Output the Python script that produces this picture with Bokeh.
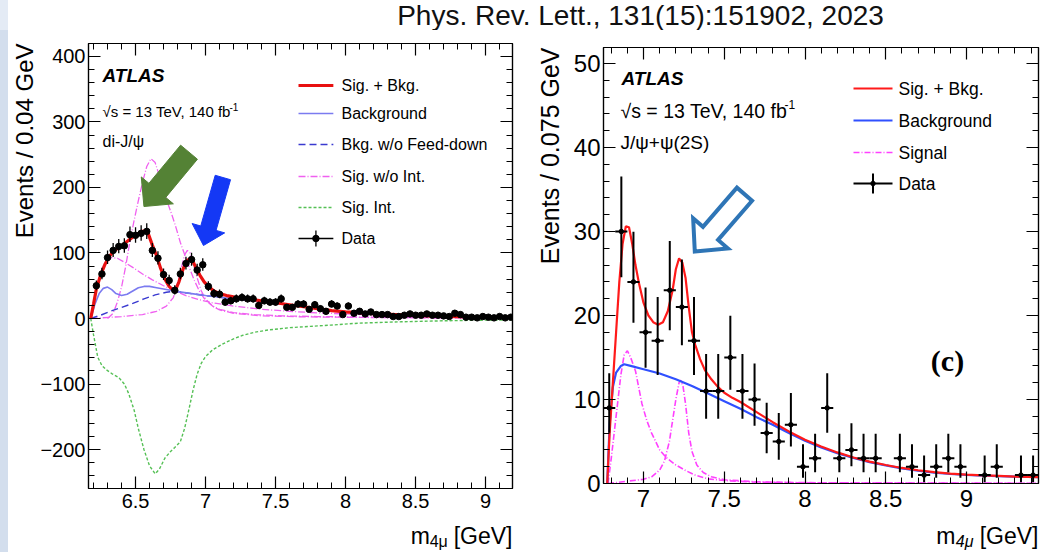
import math
from bokeh.plotting import figure
from bokeh.models import (Range1d, LinearAxis, SingleIntervalTicker,
                          CustomJSTickFormatter, Label, Spacer, Title)
from bokeh.layouts import row, column
from bokeh.embed import file_html
from bokeh.resources import INLINE
from bokeh.core.properties import value

FONT = "Liberation Sans"

# ---------------- di-J/psi channel: events per 0.04 GeV ----------------
DIJ_BIN_LO = 6.16
DIJ_BIN_W = 0.04
dij_counts = [0, 50, 68, 93, 104, 110, 111, 128, 127, 130,
              133, 104, 92, 67, 58, 43, 68, 84, 90, 74,
              82, 49, 38, 37, 25, 27, 30, 32, 30, 30,
              20, 27, 25, 25, 30, 17, 17, 22, 22, 14,
              21, 15, 11, 22, 19, 6, 19, 8, 11, 7,
              10, 6, 6, 6, 3, 3, 5, 7, 5, 5,
              7, 5, 5, 4, 3, 8, 6, 2, 2, 1,
              3, 2, 1, 3, 1, 2]

# fit model curves (m4mu in GeV, events)
dij_sb_m = [6.18, 6.20, 6.22, 6.25, 6.28, 6.31, 6.34, 6.37, 6.40, 6.43, 6.46, 6.49, 6.52,
            6.55, 6.57, 6.59, 6.62, 6.65, 6.68, 6.71, 6.74, 6.77, 6.79, 6.81, 6.84, 6.87,
            6.89, 6.91, 6.93, 6.96, 6.99, 7.02, 7.06, 7.10, 7.15, 7.20, 7.30, 7.40, 7.50,
            7.60, 7.70, 7.80, 7.90, 8.00, 8.20, 8.40, 8.60, 8.80, 9.00, 9.20]
dij_sb_y = [0, 22, 45, 66, 82, 94, 102, 107, 111, 116, 121, 126, 130,
            133, 134, 130, 112, 96, 76, 60, 49, 43, 46, 56, 76, 89,
            91, 87, 78, 66, 56, 49, 42, 38, 35, 33, 30, 27, 24,
            21, 18, 15, 12, 10, 7.5, 5.5, 4, 3, 2.5, 2]

dij_bkg_m = [6.18, 6.21, 6.24, 6.27, 6.30, 6.33, 6.36, 6.40, 6.44, 6.48, 6.52, 6.56, 6.60,
             6.65, 6.70, 6.75, 6.80, 6.90, 7.00, 7.10, 7.20, 7.30, 7.40, 7.50, 7.60, 7.70,
             7.80, 7.90, 8.00, 8.20, 8.40, 8.60, 8.80, 9.00, 9.20]
dij_bkg_y = [0, 22, 38, 46, 48, 44, 38, 35, 37, 42, 47, 49, 49,
             47, 45, 43, 41, 38, 35, 32.5, 30, 28, 26, 23.5, 21, 18,
             15, 12, 10, 7.5, 5.5, 4, 3, 2.5, 2]

dij_nofd_m = [6.18, 6.25, 6.32, 6.40, 6.48, 6.56, 6.64, 6.72, 6.78, 6.85, 6.90, 7.00, 7.10,
              7.20, 7.30, 7.40, 7.50, 7.60, 7.70, 7.80, 7.90, 8.00, 8.20, 8.40, 8.60, 8.80,
              9.00, 9.20]
dij_nofd_y = [0, 5, 11, 17, 23, 30, 36, 40, 42, 39.5, 38, 35, 32.5,
              30, 28, 26, 23.5, 21, 18, 15, 12, 10, 7.5, 5.5, 4, 3,
              2.5, 2]

dij_sig1_m = [6.30, 6.34, 6.37, 6.40, 6.43, 6.46, 6.49, 6.52, 6.55, 6.58, 6.61, 6.64, 6.67,
              6.70, 6.73, 6.76, 6.79, 6.82, 6.85, 6.88, 6.92, 6.96, 7.00, 7.05, 7.10, 7.20,
              7.35, 7.55, 7.80, 8.20, 8.70, 9.20]
dij_sig1_y = [0, 8, 25, 48, 80, 118, 150, 180, 208, 232, 244, 238, 218,
              196, 176, 158, 138, 116, 98, 80, 58, 40, 28, 19, 14, 9,
              6, 4, 3, 2, 1, 0.5]

dij_sig2_m = [6.18, 6.40, 6.55, 6.65, 6.72, 6.77, 6.80, 6.83, 6.85, 6.87, 6.89, 6.91, 6.94,
              6.97, 7.00, 7.05, 7.10, 7.20, 7.40, 7.70, 8.20, 9.20]
dij_sig2_y = [0, 3, 6, 11, 19, 32, 52, 80, 97, 104, 100, 85, 62,
              42, 30, 19, 13, 8, 4, 2.5, 1.5, 0.5]

dij_sig3_m = [6.18, 6.21, 6.24, 6.27, 6.30, 6.33, 6.37, 6.42, 6.48, 6.55, 6.62, 6.70, 6.78,
              6.86, 6.95, 7.05, 7.20, 7.40, 7.60, 7.80, 8.00, 8.40, 8.80, 9.20]
dij_sig3_y = [0, 35, 62, 80, 90, 93, 92, 86, 78, 68, 59, 50, 42,
              35, 29, 24, 19, 14, 11, 8.5, 7, 4.5, 3, 2]

dij_int_m = [6.18, 6.20, 6.23, 6.26, 6.29, 6.33, 6.38, 6.42, 6.45, 6.49, 6.52, 6.56, 6.60,
             6.64, 6.67, 6.71, 6.75, 6.78, 6.82, 6.85, 6.88, 6.91, 6.94, 6.97, 7.00, 7.05,
             7.12, 7.20, 7.26, 7.35, 7.45, 7.60, 7.75, 7.90, 8.10, 8.40, 8.70, 9.00, 9.20]
dij_int_y = [0, -25, -59, -72, -78, -84, -90, -100, -114, -140, -168, -200, -225,
             -237, -230, -213, -203, -197, -188, -168, -140, -110, -85, -68, -58, -48,
             -39, -31, -26, -21, -17.5, -14, -12, -10, -7, -5, -3.5, -2.5, -2]

# ---------------- J/psi + psi(2S) channel: events per 0.075 GeV ----------------
JP2_BIN_LO = 6.75
JP2_BIN_W = 0.075
jp2_counts = [9, 30, 24, 18, 17, 23, 21, 17, 11, 11,
              15, 11, 10, 6, 5, 7, 2, 3, 9, 3,
              4, 3, 3, 0, 3, 2, 1, 2, 3, 2,
              0, 1, 2, 0, 1, 1]

jp2_sb_m = [6.775, 6.79, 6.81, 6.83, 6.85, 6.87, 6.89, 6.91, 6.93, 6.95, 6.97, 7.00, 7.03,
            7.06, 7.09, 7.12, 7.15, 7.18, 7.20, 7.22, 7.24, 7.26, 7.28, 7.30, 7.32, 7.35,
            7.38, 7.42, 7.46, 7.50, 7.55, 7.60, 7.70, 7.80, 7.90, 8.00, 8.10, 8.20, 8.30,
            8.40, 8.50, 8.60, 8.70, 8.80, 8.90, 9.00, 9.10, 9.20, 9.30, 9.45]
jp2_sb_y = [0, 6, 12, 18, 24, 28.5, 30.6, 30.5, 28.5, 26, 24, 21.5, 20,
            19.2, 18.9, 19.2, 20.5, 23, 25.5, 26.8, 26.3, 24.5, 21, 18, 16.5, 14.8,
            13.5, 12.4, 11.5, 10.8, 10.2, 9.7, 8.5, 7.3, 6.2, 5.2, 4.4, 3.7, 3.1,
            2.6, 2.2, 1.85, 1.58, 1.36, 1.18, 1.06, 0.97, 0.9, 0.83, 0.77]

jp2_bkg_m = [6.775, 6.79, 6.81, 6.83, 6.86, 6.88, 6.92, 7.00, 7.10, 7.20, 7.30, 7.40, 7.50,
             7.60, 7.70, 7.80, 7.90, 8.00, 8.10, 8.20, 8.30, 8.40, 8.50, 8.60, 8.70, 8.80,
             8.90, 9.00, 9.10, 9.20, 9.30, 9.45]
jp2_bkg_y = [0, 7, 11.5, 13.2, 14.0, 14.2, 14.0, 13.6, 13.1, 12.4, 11.6, 10.7, 9.8,
             8.9, 7.9, 7.0, 6.0, 5.1, 4.3, 3.6, 3.05, 2.55, 2.15, 1.8, 1.52, 1.3,
             1.13, 1.02, 0.94, 0.87, 0.81, 0.75]

jp2_sig1_m = [6.78, 6.80, 6.83, 6.86, 6.88, 6.90, 6.92, 6.95, 6.99, 7.02, 7.05, 7.10, 7.14,
              7.20, 7.26, 7.32, 7.40, 7.50, 7.70, 8.00, 9.45]
jp2_sig1_y = [0, 3, 8, 13, 15.3, 15.8, 15, 13.4, 9.5, 7.5, 6.0, 4.0, 3.1,
              2.2, 1.55, 1.0, 0.55, 0.35, 0.15, 0.08, 0.02]

jp2_sig2_m = [6.78, 7.00, 7.05, 7.10, 7.13, 7.16, 7.18, 7.20, 7.22, 7.23, 7.245, 7.26, 7.28,
              7.30, 7.33, 7.37, 7.42, 7.50, 7.70, 8.00, 9.45]
jp2_sig2_y = [0, 0.5, 0.8, 1.6, 2.7, 5.0, 7.5, 10.0, 12.0, 12.3, 11.5, 9.5, 6.0,
              3.8, 2.2, 1.3, 0.8, 0.45, 0.2, 0.1, 0.03]


# ---------------- page geometry ----------------
PAGE_W, PAGE_H = 1048, 552
STRIP_W = 8
TITLE_H = 30
XLAB_TOP = 517          # the axis-title strip starts here
PANEL_H = XLAB_TOP - TITLE_H
XLAB_H = PAGE_H - XLAB_TOP


class Frame:
    """Maps page pixels to data coordinates for one plot frame."""

    def __init__(self, left, right, top, bottom, xr, yr):
        self.l, self.r, self.t, self.b = left, right, top, bottom
        self.x0, self.x1 = xr
        self.y0, self.y1 = yr

    def x(self, px):
        return self.x0 + (px - self.l) * (self.x1 - self.x0) / (self.r - self.l)

    def y(self, py):
        return self.y0 + (self.b - py) * (self.y1 - self.y0) / (self.b - self.t)


def tick_formatter():
    return CustomJSTickFormatter(code="""
        const r = Math.round(tick);
        let s = Math.abs(tick - r) < 1e-6 ? r.toFixed(0) : tick.toFixed(1);
        if (tick < 0) { s = "\u2212" + s.replace("-", ""); }
        return s;
    """)


def make_panel(fr, fig_x, fig_w, xr, yr, xint, yint, tick_size, xstand, ystand,
               ytitle, ytitle_size, ytitle_standoff):
    fig_y = TITLE_H
    p = figure(width=fig_w, height=PANEL_H, output_backend="svg", toolbar_location=None,
               title=None, x_range=Range1d(*xr), y_range=Range1d(*yr),
               x_axis_type=None, y_axis_type=None,
               min_border_left=fr.l - fig_x, min_border_right=fig_x + fig_w - fr.r,
               min_border_top=fr.t - fig_y, min_border_bottom=fig_y + PANEL_H - fr.b)
    p.outline_line_color = "black"
    p.outline_line_width = 1.2
    p.background_fill_color = "white"
    p.border_fill_color = "white"

    def axis(ticker_int, labelled, standoff):
        ax = LinearAxis(ticker=SingleIntervalTicker(interval=ticker_int, num_minor_ticks=5))
        ax.axis_line_color = "black"
        ax.axis_line_width = 1.2
        ax.major_tick_line_color = "black"
        ax.minor_tick_line_color = "black"
        ax.major_tick_line_width = 1.2
        ax.minor_tick_line_width = 1.0
        ax.major_tick_in = 12
        ax.major_tick_out = 0
        ax.minor_tick_in = 6
        ax.minor_tick_out = 0
        if labelled:
            ax.formatter = tick_formatter()
            ax.major_label_text_font = FONT
            ax.major_label_text_font_size = f"{tick_size}px"
            ax.major_label_text_color = "black"
            ax.major_label_standoff = standoff
        else:
            ax.formatter = CustomJSTickFormatter(code="return '';")
            ax.major_label_text_font_size = "1px"
            ax.major_label_standoff = 0
        return ax

    p.add_layout(axis(xint, True, xstand), "below")
    p.add_layout(axis(yint, True, ystand), "left")
    p.add_layout(axis(xint, False, 0), "above")
    p.add_layout(axis(yint, False, 0), "right")
    p.add_layout(Title(text=ytitle, align="right", text_font=FONT,
                       text_font_size=f"{ytitle_size}px", text_font_style="normal",
                       text_color="black", standoff=ytitle_standoff), "left")
    return p


def put_text(p, fr, px, py, text, size, style="normal", align="left",
             baseline="middle", angle=0.0, font=FONT, color="black"):
    p.add_layout(Label(x=px - fr.l, y=fr.b - py, x_units="screen", y_units="screen",
                       text=text, text_font=font, text_font_size=f"{size}px",
                       text_font_style=style, text_align=align, text_baseline=baseline,
                       angle=angle, text_color=color))


def draw_data(p, lo, w, counts, size, lw):
    xs, ys, ylo, yhi, xl, xr = [], [], [], [], [], []
    for i, n in enumerate(counts):
        if n <= 0:
            continue
        c = lo + w * (i + 0.5)
        xs.append(c)
        ys.append(n)
        # Poisson (Garwood-like) 68% interval
        ylo.append(n - math.sqrt(n - 0.25))
        yhi.append(n + math.sqrt(n + 0.75) + 1.0)
        xl.append(c - w / 2)
        xr.append(c + w / 2)
    p.segment(xs, ylo, xs, yhi, line_color="black", line_width=lw)
    p.segment(xl, ys, xr, ys, line_color="black", line_width=lw)
    p.scatter(xs, ys, size=size, color="black")


def block_arrow_px(tip, tail, shaft_w, head_w, head_l):
    ux, uy = tail[0] - tip[0], tail[1] - tip[1]
    L = math.hypot(ux, uy)
    ux, uy = ux / L, uy / L
    nx, ny = -uy, ux
    bx, by = tip[0] + ux * head_l, tip[1] + uy * head_l
    return [tip,
            (bx + nx * head_w / 2, by + ny * head_w / 2),
            (bx + nx * shaft_w / 2, by + ny * shaft_w / 2),
            (tail[0] + nx * shaft_w / 2, tail[1] + ny * shaft_w / 2),
            (tail[0] - nx * shaft_w / 2, tail[1] - ny * shaft_w / 2),
            (bx - nx * shaft_w / 2, by - ny * shaft_w / 2),
            (bx - nx * head_w / 2, by - ny * head_w / 2)]


def draw_arrow(p, fr, pts, fill, line, lw):
    p.patch([fr.x(a) for a, _ in pts], [fr.y(b) for _, b in pts],
            fill_color=fill, line_color=line, line_width=lw, line_join="miter")


def legend_line(p, fr, x0, x1, py, **kw):
    p.line([fr.x(x0), fr.x(x1)], [fr.y(py), fr.y(py)], **kw)


def xtitle_strip(fr, fig_x, fig_w, sub_style):
    """m_{4mu} [GeV] written below a panel, right-aligned at the frame's right edge.
    The strip shares the panel's left/right borders, so its x range is page pixels."""
    s = figure(width=fig_w, height=XLAB_H, output_backend="svg", toolbar_location=None,
               title=None, x_range=Range1d(fr.l, fr.r),
               y_range=Range1d(PAGE_H, XLAB_TOP),
               x_axis_type=None, y_axis_type=None,
               min_border_left=fr.l - fig_x, min_border_right=fig_x + fig_w - fr.r,
               min_border_top=0, min_border_bottom=0)
    s.outline_line_color = None
    s.grid.visible = False
    right_px = fr.r
    base = 535
    s.text(x=[right_px], y=[base], text=["[GeV]"], text_font=value(FONT),
           text_font_size="23px", text_align="right", text_baseline="alphabetic")
    s.text(x=[right_px - 65], y=[base + 6], text=["4\u03bc"], text_font=value(FONT),
           text_font_size="16px", text_align="right", text_baseline="alphabetic",
           text_font_style=sub_style)
    s.text(x=[right_px - 83], y=[base], text=["m"], text_font=value(FONT),
           text_font_size="23px", text_align="right", text_baseline="alphabetic")
    return s


# ======================= left panel: di-J/psi =======================
L_XR = (6.164, 9.192)
L_YR = (-259.5, 419.8)
fl = Frame(86, 512, 43, 488, L_XR, L_YR)
pl = make_panel(fl, STRIP_W, 512, L_XR, L_YR, 0.5, 100, 20, 5, 3,
                "Events / 0.04 GeV", 24, 0)

MAG = "#f060f0"
pl.line(dij_int_m, dij_int_y, line_color="#55c055", line_width=1.4, line_dash="3 2")
pl.line(dij_sig3_m, dij_sig3_y, line_color=MAG, line_width=1.3, line_dash="7 2 1 2")
pl.line(dij_sig2_m, dij_sig2_y, line_color=MAG, line_width=1.3, line_dash="7 2 1 2")
pl.line(dij_sig1_m, dij_sig1_y, line_color=MAG, line_width=1.3, line_dash="7 2 1 2")
pl.line(dij_nofd_m, dij_nofd_y, line_color="#3a3ad0", line_width=1.4, line_dash="7 4")
pl.line(dij_bkg_m, dij_bkg_y, line_color="#7b7bf0", line_width=1.6)
pl.line(dij_sb_m, dij_sb_y, line_color="#e81010", line_width=3.2)
draw_data(pl, DIJ_BIN_LO, DIJ_BIN_W, dij_counts, 6.5, 1.3)

# texts
put_text(pl, fl, 100, 75, "ATLAS", 19, style="bold italic")
put_text(pl, fl, 100, 111, "\u221as = 13 TeV, 140 fb", 15)
put_text(pl, fl, 227, 106, "-1", 10)
put_text(pl, fl, 100, 141, "di-J/\u03c8", 16)

# legend
lx0, lx1, ltx = 297, 332, 339
rows_l = [85, 113, 144, 176, 207, 238]
legend_line(pl, fl, lx0, lx1, rows_l[0], line_color="#e81010", line_width=3.2)
legend_line(pl, fl, lx0, lx1, rows_l[1], line_color="#7b7bf0", line_width=1.6)
legend_line(pl, fl, lx0, lx1, rows_l[2], line_color="#3a3ad0", line_width=1.4, line_dash="7 4")
legend_line(pl, fl, lx0, lx1, rows_l[3], line_color=MAG, line_width=1.3, line_dash="7 2 1 2")
legend_line(pl, fl, lx0, lx1, rows_l[4], line_color="#55c055", line_width=1.4, line_dash="3 2")
legend_line(pl, fl, lx0, lx1, rows_l[5], line_color="black", line_width=1.3)
pl.segment([fl.x(314.5)], [fl.y(rows_l[5] - 8)], [fl.x(314.5)], [fl.y(rows_l[5] + 8)],
           line_color="black", line_width=1.3)
pl.scatter([fl.x(314.5)], [fl.y(rows_l[5])], size=6.5, color="black")
for yy, t in zip(rows_l, ["Sig. + Bkg.", "Background", "Bkg. w/o Feed-down",
                          "Sig. w/o Int.", "Sig. Int.", "Data"]):
    put_text(pl, fl, ltx, yy, t, 16)

# arrows
draw_arrow(pl, fl, block_arrow_px((141.7, 206), (187, 151.7), 22, 42, 21),
           "#548235", "#548235", 1)
draw_arrow(pl, fl, block_arrow_px((201.5, 245), (221, 177), 16, 34, 18),
           "#1438f5", "#1438f5", 1)

# ======================= right panel: J/psi + psi(2S) =======================
R_XR = (6.752, 9.446)
R_YR = (0.0, 51.9)
fr = Frame(603, 1038, 47, 483, R_XR, R_YR)
pr = make_panel(fr, 520, 528, R_XR, R_YR, 0.5, 10, 24, 6, 3,
                "Events / 0.075 GeV", 25, 14)

MAG2 = "#ff40ff"
pr.line(jp2_sig1_m, jp2_sig1_y, line_color=MAG2, line_width=1.6, line_dash="6 2 1 2")
pr.line(jp2_sig2_m, jp2_sig2_y, line_color=MAG2, line_width=1.6, line_dash="6 2 1 2")
pr.line(jp2_bkg_m, jp2_bkg_y, line_color="#3050ff", line_width=2.2)
pr.line(jp2_sb_m, jp2_sb_y, line_color="#ff1a1a", line_width=2.2)
draw_data(pr, JP2_BIN_LO, JP2_BIN_W, jp2_counts, 4.5, 2.0)

put_text(pr, fr, 621, 78, "ATLAS", 19, style="bold italic")
put_text(pr, fr, 620, 110, "\u221as = 13 TeV, 140 fb", 19.5)
put_text(pr, fr, 784, 104, "-1", 12)
put_text(pr, fr, 620, 142, "J/\u03c8+\u03c8(2S)", 19)

rx0, rx1, rtx = 853, 892, 898
rows_r = [88, 120, 152, 183]
legend_line(pr, fr, rx0, rx1, rows_r[0], line_color="#ff1a1a", line_width=2.2)
legend_line(pr, fr, rx0, rx1, rows_r[1], line_color="#3050ff", line_width=2.2)
legend_line(pr, fr, rx0, rx1, rows_r[2], line_color=MAG2, line_width=1.6, line_dash="6 2 1 2")
legend_line(pr, fr, rx0, rx1, rows_r[3], line_color="black", line_width=2.0)
pr.segment([fr.x(872.5)], [fr.y(rows_r[3] - 10)], [fr.x(872.5)], [fr.y(rows_r[3] + 10)],
           line_color="black", line_width=2.0)
pr.scatter([fr.x(872.5)], [fr.y(rows_r[3])], size=4.5, color="black")
for yy, t in zip(rows_r, ["Sig. + Bkg.", "Background", "Signal", "Data"]):
    put_text(pr, fr, rtx, yy, t, 17.5)

put_text(pr, fr, 947, 360, "(c)", 30, style="bold", align="center",
         font="Liberation Serif")

draw_arrow(pr, fr, block_arrow_px((694.3, 251), (744, 193.7), 20, 46, 24),
           "white", "#2e75b6", 4)

# ======================= x-axis titles =======================
xl_strip = xtitle_strip(fl, STRIP_W, 512, "normal")
xr_strip = xtitle_strip(fr, 520, 528, "italic")

# ======================= citation line =======================
pt = figure(width=PAGE_W - STRIP_W, height=TITLE_H, output_backend="svg",
            toolbar_location=None, title=None, x_range=Range1d(STRIP_W, PAGE_W),
            y_range=Range1d(TITLE_H, 0), x_axis_type=None, y_axis_type=None,
            min_border=0)
pt.outline_line_color = None
pt.grid.visible = False
pt.text(x=[640], y=[15], text=["Phys. Rev. Lett., 131(15):151902, 2023"],
        text_font=value(FONT), text_font_size="28px", text_align="center",
        text_baseline="middle", text_color="#111111")

strip = column(Spacer(width=STRIP_W, height=TITLE_H, styles={"background-color": "#e4ebf5"}),
               Spacer(width=STRIP_W, height=PAGE_H - TITLE_H,
                      styles={"background-color": "#d3deed"}))

# each panel sits in its own column so the two frames keep their own borders
left_col = column(pl, xl_strip)
right_col = column(pr, xr_strip)
layout = row(strip, column(pt, row(left_col, right_col)))

open("out.html", "w", encoding="utf-8").write(file_html(layout, INLINE))
